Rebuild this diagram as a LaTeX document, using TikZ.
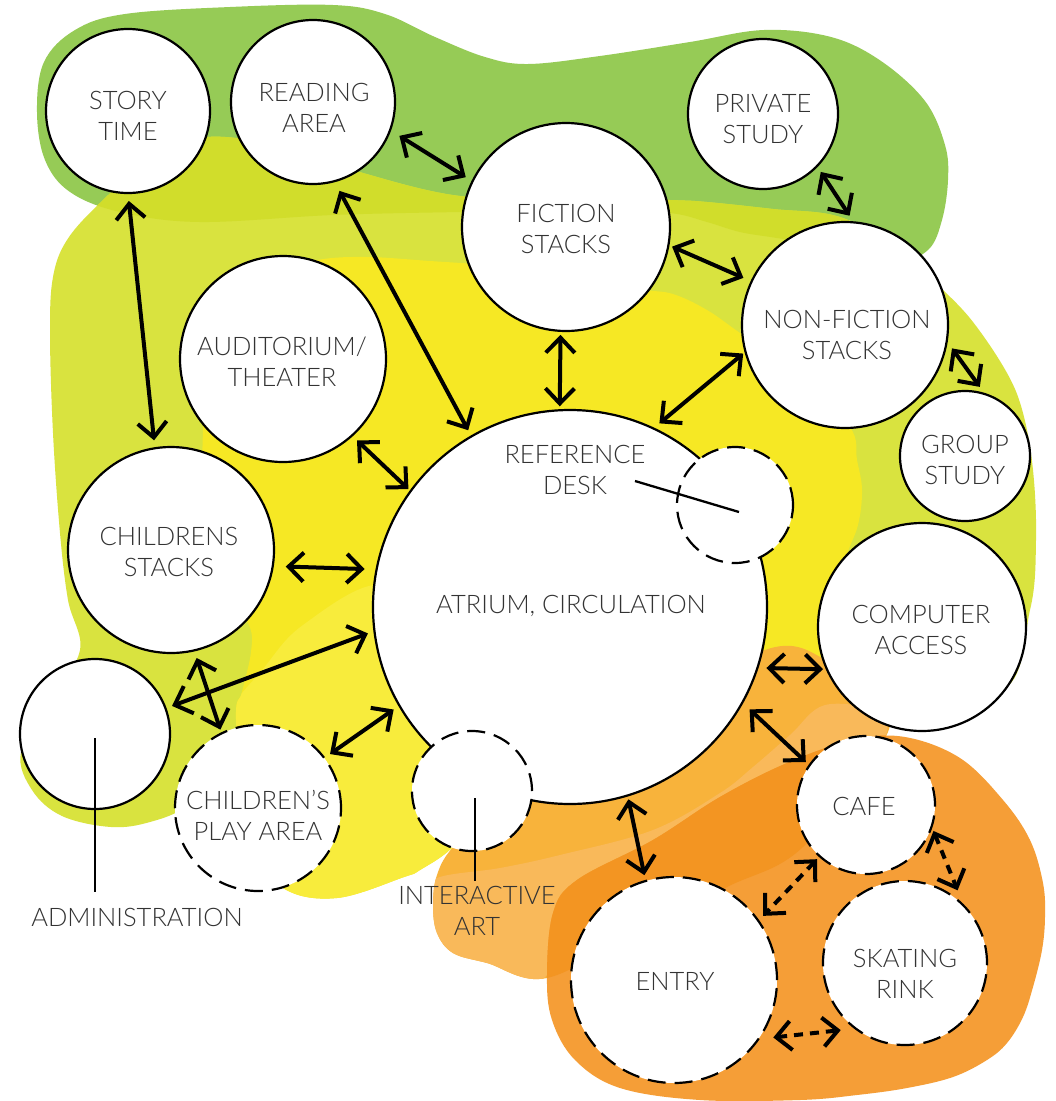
\documentclass[tikz,border=0pt]{standalone}
\usepackage{fontspec}
\IfFontExistsTF{Lato Light}{\setmainfont{Lato Light}}{\setmainfont{Lato}}
\usetikzlibrary{arrows.meta}
\definecolor{cGreen}{HTML}{96CB56}
\definecolor{cDarkLime}{HTML}{D1DD2B}
\definecolor{cLime}{HTML}{D9E33F}
\definecolor{cYellow}{HTML}{F6E824}
\definecolor{cLYellow}{HTML}{F8EC3C}
\definecolor{cLOrange}{HTML}{F8B33B}
\definecolor{cBand}{HTML}{F9B95A}
\definecolor{cOrange}{HTML}{F59E37}
\definecolor{cDOrange}{HTML}{F39522}
\definecolor{cText}{HTML}{333333}
\tikzset{
  room/.style={circle, draw=black, line width=2.2pt, fill=white, inner sep=0pt, outer sep=0pt, minimum size=#1},
  droom/.style={room=#1, dash pattern=on 18pt off 9pt},
  lbl/.style={text=cText, font=\fontsize{25.5}{31}\selectfont, align=center, inner sep=0pt},
  arr/.style={line width=4pt, {Straight Barb[length=15pt,width=29pt]}-{Straight Barb[length=15pt,width=29pt]}},
  darr/.style={arr, dash pattern=on 9pt off 7pt},
  lead/.style={line width=2.3pt},
  blob/.style={smooth cycle, tension=0.6}
}
\begin{document}
\begin{tikzpicture}[x=1pt, y=-1pt]
\useasboundingbox (0,0) rectangle (1056,1101);
\fill[white] (0,0) rectangle (1056,1101);

% ---- background regions ----
\path[save path=\pathG] plot[blob] coordinates {(37,112) (44,62) (75,30) (125,14) (230,7) (333,5) (385,14) (435,37) (485,57) (528,64) (600,56) (690,42) (764,30) (831,37) (881,61) (925,101) (945,145) (948,180) (942,220) (928,250) (895,262) (840,248) (777,238) (740,232) (707,222) (670,213) (600,210) (460,212) (333,215) (200,222) (120,212) (70,192) (45,160)};
\path[save path=\pathY] plot[blob] coordinates {(100,203) (150,160) (207,137) (290,148) (363,173) (460,196) (560,197) (670,200) (707,202) (773,209) (840,217) (900,250) (940,287) (973,322) (1007,373) (1023,413) (1033,470) (1036,540) (1030,610) (1000,690) (880,650) (780,600) (600,600) (400,680) (250,760) (190,805) (150,822) (111,827) (62,816) (32,790) (21,752) (50,700) (80,650) (68,600) (60,533) (53,433) (50,333) (53,277) (67,240)};
\path[save path=\pathYY] plot[blob] coordinates {(203,430) (210,340) (260,275) (317,260) (367,257) (430,261) (500,266) (580,275) (640,289) (673,294) (707,310) (740,333) (800,375) (850,427) (857,460) (862,490) (858,525) (845,560) (830,620) (822,658) (767,652) (650,720) (500,790) (455,845) (420,870) (404,877) (337,898) (283,888) (245,840) (236,719) (242,692) (251,652) (249,625) (225,590) (205,500)};
\path[save path=\pathL] plot[blob] coordinates {(765,650) (822,658) (848,695) (880,710) (884,740) (803,847) (727,887) (640,930) (547,978) (487,963) (453,953) (437,933) (433,905) (437,875) (453,847) (500,800) (650,720)};
\path[save path=\pathD] plot[blob] coordinates {(547,975) (553,913) (577,880) (653,840) (720,797) (787,763) (853,740) (905,737) (960,758) (1003,800) (1030,840) (1043,883) (1045,917) (1042,950) (1033,987) (1023,1017) (1007,1043) (987,1060) (953,1077) (907,1088) (857,1095) (800,1100) (700,1100) (620,1088) (575,1060) (552,1020)};

\fill[cGreen, use path=\pathG];
\fill[cLime, use path=\pathY];
\begin{scope}
  \clip[use path=\pathG];
  \fill[cDarkLime, use path=\pathY];
\end{scope}
\fill[cYellow, use path=\pathYY];
\begin{scope}
  \clip[use path=\pathYY];
  \fill[cLYellow] plot[blob] coordinates {(380,585) (303,625) (263,669) (225,719) (200,800) (283,950) (420,930) (470,860) (480,760) (430,640)};
\end{scope}
\fill[cLOrange, use path=\pathL];
\begin{scope}
  \clip[use path=\pathL];
  \fill[cBand] plot[blob] coordinates {(437,878) (500,868) (560,855) (653,830) (720,793) (753,767) (790,735) (825,705) (880,712) (884,738) (853,740) (787,763) (720,797) (653,840) (577,880) (553,913) (547,975) (487,990) (420,960) (420,900)};
\end{scope}
\fill[cOrange, use path=\pathD];
\begin{scope}
  \clip[use path=\pathL];
  \fill[cDOrange, use path=\pathD];
\end{scope}

% ---- rooms ----
\node[room=164pt] (story) at (128,111) {};
\node[room=164pt] (reading) at (313,102) {};
\node[room=150pt] (private) at (763,114) {};
\node[room=208pt] (fiction) at (566,227) {};
\node[room=206pt] (nonfiction) at (845,325) {};
\node[room=206pt] (auditorium) at (283,359) {};
\node[room=130pt] (group) at (965,456) {};
\node[room=206pt] (childrens) at (171,550) {};
\node[room=394pt] (atrium) at (570,607) {};
\node[droom=116pt] (ref) at (735,505) {};
\node[room=208pt] (computer) at (922,627) {};
\node[room=150pt] (admin) at (95,734) {};
\node[droom=166pt] (play) at (258,808) {};
\node[droom=120pt] (inter) at (472,791) {};
\node[droom=138pt] (cafe) at (866,805) {};
\node[droom=206pt] (entry) at (674,980) {};
\node[droom=164pt] (skating) at (905,963) {};

% ---- leader lines ----
\coordinate (refA) at (635,481);
\coordinate (refB) at (739,512);
\coordinate (adminA) at (95,738);
\coordinate (adminB) at (95,892);
\coordinate (interA) at (475,798);
\coordinate (interB) at (475,881);
\draw[lead] (refA) -- (refB);
\draw[lead] (adminA) -- (adminB);
\draw[lead] (interA) -- (interB);

% ---- labels ----
\node[lbl] (storyT) at (128,116) {STORY\\TIME};
\node[lbl] (readingT) at (314,108) {READING\\AREA};
\node[lbl] (privateT) at (763,119) {PRIVATE\\STUDY};
\node[lbl] (fictionT) at (566,229) {FICTION\\STACKS};
\node[lbl] (nonfictionT) at (847,335) {NON-FICTION\\STACKS};
\node[lbl] (auditoriumT) at (282,362) {AUDITORIUM/\\THEATER};
\node[lbl] (groupT) at (965,460) {GROUP\\STUDY};
\node[lbl] (childrensT) at (169,552) {CHILDRENS\\STACKS};
\node[lbl] (refT) at (575,470) {REFERENCE\\DESK};
\node[lbl] (atriumT) at (571,606) {ATRIUM, CIRCULATION};
\node[lbl] (computerT) at (921,630) {COMPUTER\\ACCESS};
\node[lbl] (adminT) at (137,917) {ADMINISTRATION};
\node[lbl] (playT) at (258,815) {CHILDREN’S\\PLAY AREA};
\node[lbl] (interT) at (477,911) {INTERACTIVE\\ART};
\node[lbl] (cafeT) at (864,806) {CAFE};
\node[lbl] (entryT) at (675,981) {ENTRY};
\node[lbl] (skatingT) at (905,974) {SKATING\\RINK};

% ---- connections ----
\draw[arr, shorten <=8pt, shorten >=8pt] (story.270) -- (childrens.99);
\draw[arr, shorten <=11pt, shorten >=7pt] (reading.285) -- (atrium.120);
\draw[arr, shorten <=11pt, shorten >=8pt] (reading.340) -- (fiction.154);
\draw[arr, shorten <=4pt, shorten >=9pt] (fiction.350) -- (nonfiction.155);
\draw[arr, shorten <=4pt, shorten >=4pt] (fiction.267) -- (atrium.93);
\draw[arr, shorten <=3pt, shorten >=8pt] (nonfiction.195) -- (atrium.65);
\draw[arr, shorten <=7pt, shorten >=8pt] (private.316) -- (nonfiction.85);
\draw[arr, shorten <=9pt, shorten >=9pt] (nonfiction.351) -- (group.72);
\draw[arr, shorten <=7pt, shorten >=3pt] (auditorium.312) -- (atrium.144);
\draw[arr, shorten <=13pt, shorten >=12pt] (childrens.351) -- (atrium.169);
\draw[arr, shorten <=7pt, shorten >=7pt] (admin.20) -- (atrium.187);
\draw[arr, shorten <=8pt, shorten >=4pt] (childrens.283) -- (play.116);
\draw[arr, shorten <=7pt, shorten >=7pt] (play.37) -- (atrium.210);
\draw[arr, shorten <=9pt, shorten >=4pt] (atrium.342) -- (computer.204);
\draw[arr, shorten <=10pt, shorten >=5pt] (atrium.331) -- (cafe.145);
\draw[arr, shorten <=4pt, shorten >=6pt] (atrium.287) -- (entry.106);
\draw[darr, shorten <=4pt, shorten >=7pt] (cafe.228) -- (entry.35);
\draw[darr, shorten <=5pt, shorten >=17pt] (cafe.342) -- (skating.44);
\draw[darr, shorten <=15pt, shorten >=15pt] (entry.325) -- (skating.233);
\end{tikzpicture}
\end{document}
